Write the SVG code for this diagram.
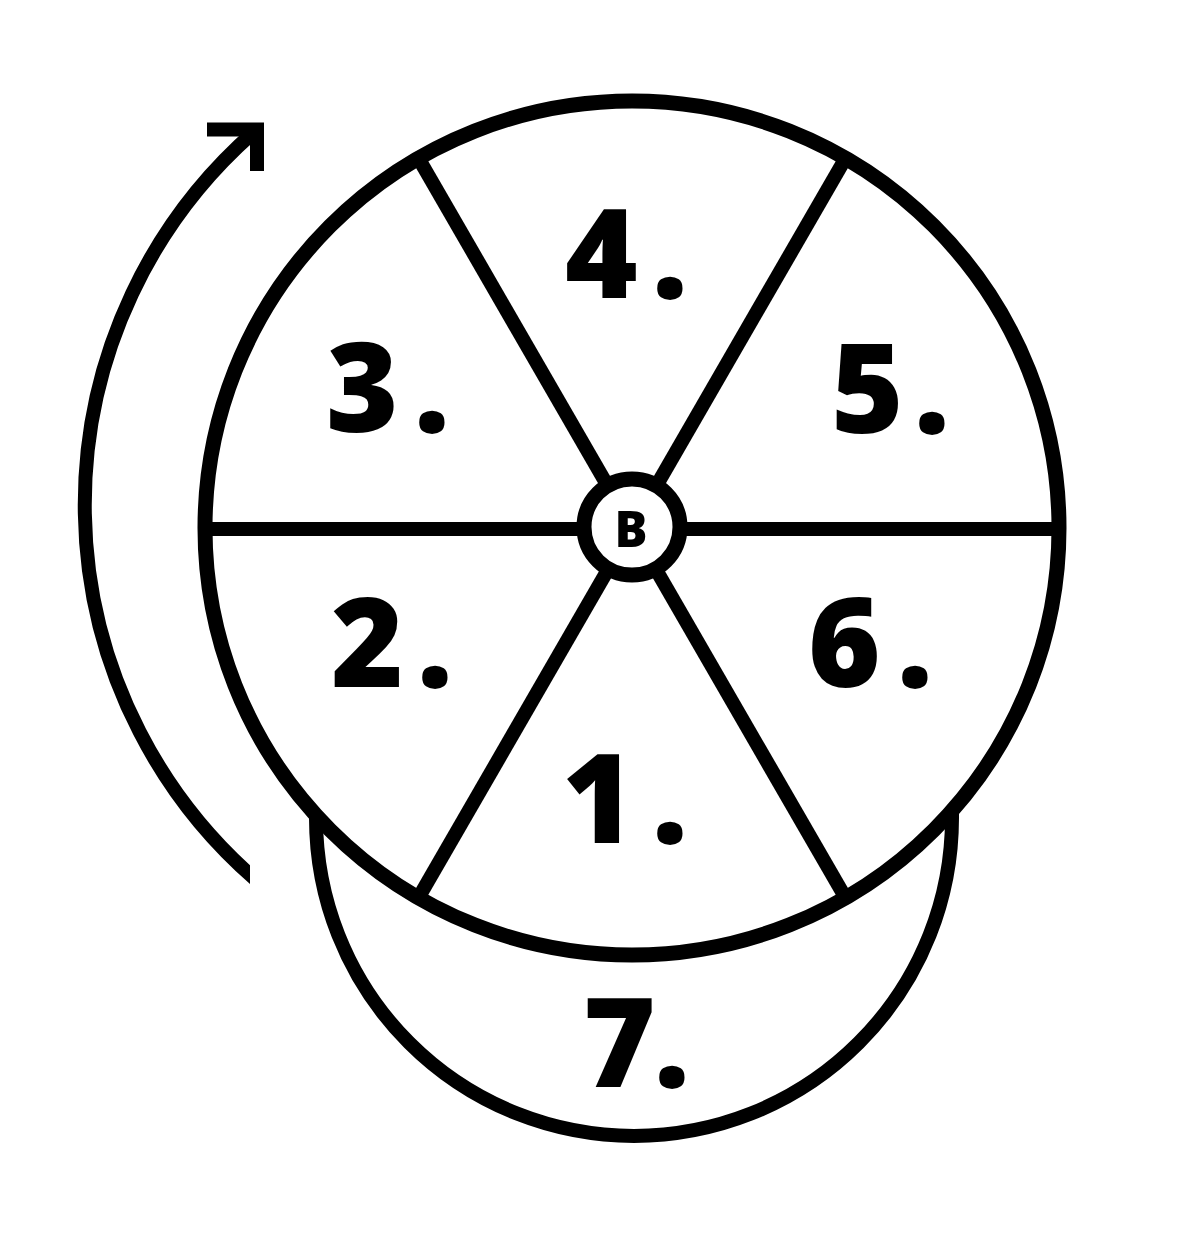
<svg xmlns="http://www.w3.org/2000/svg" width="1200" height="1256" viewBox="0 0 1200 1256">
  <style>
    .ln { fill: none; stroke: #000; stroke-width: 14; }
    .lbl { font-family: "Open Sans", "Liberation Sans", sans-serif; font-weight: 800; font-size: 124px; fill: #000; }
    .btn { font-family: "Open Sans", "Liberation Sans", sans-serif; font-weight: 800; font-size: 49px; fill: #000; }
  </style>
  <defs>
    <clipPath id="shaftClip">
      <rect x="0" y="0" width="400" height="500"/>
      <rect x="0" y="500" width="250" height="756"/>
    </clipPath>
  </defs>
  <rect x="0" y="0" width="1200" height="1256" fill="#fff"/>
  <g id="connectors">
    <path id="rotation-arrow" class="ln" stroke-width="13" clip-path="url(#shaftClip)" d="M255,131 A496,496 0 0 0 268,890"/>
    <path id="arrowhead" class="ln" stroke-width="13" stroke-linejoin="miter" d="M207,129.5 L257,129.5 L257,171"/>
  </g>
  <g id="visor">
    <path class="ln" stroke-width="15" d="M316,810 L316,818 A318,318 0 0 0 952,818 L952,808"/>
    <text class="lbl" y="1087" font-size="104"><tspan x="583">7</tspan><tspan x="654">.</tspan></text>
  </g>
  <g id="crown">
    <circle cx="632" cy="528" r="427" fill="#fff" stroke="#000" stroke-width="15"/>
  </g>
  <g id="seams">
    <line class="ln" stroke-width="13" x1="205" y1="529" x2="1059" y2="529"/>
    <line class="ln" stroke-width="13" x1="418.5" y1="158.2" x2="845.5" y2="897.8"/>
    <line class="ln" stroke-width="13" x1="845.5" y1="158.2" x2="418.5" y2="897.8"/>
  </g>
  <g id="panel-1"><text class="lbl" y="843"><tspan x="562">1</tspan><tspan x="652">.</tspan></text></g>
  <g id="panel-2"><text class="lbl" y="687"><tspan x="331">2</tspan><tspan x="417">.</tspan></text></g>
  <g id="panel-3"><text class="lbl" y="432"><tspan x="326">3</tspan><tspan x="414">.</tspan></text></g>
  <g id="panel-4"><text class="lbl" y="298"><tspan x="565">4</tspan><tspan x="652">.</tspan></text></g>
  <g id="panel-5"><text class="lbl" y="433"><tspan x="831">5</tspan><tspan x="914">.</tspan></text></g>
  <g id="panel-6"><text class="lbl" y="687"><tspan x="808">6</tspan><tspan x="897">.</tspan></text></g>
  <g id="button">
    <circle cx="632" cy="527" r="48" fill="#fff" stroke="#000" stroke-width="15"/>
    <text class="btn" x="631" y="547" text-anchor="middle">B</text>
  </g>
</svg>
